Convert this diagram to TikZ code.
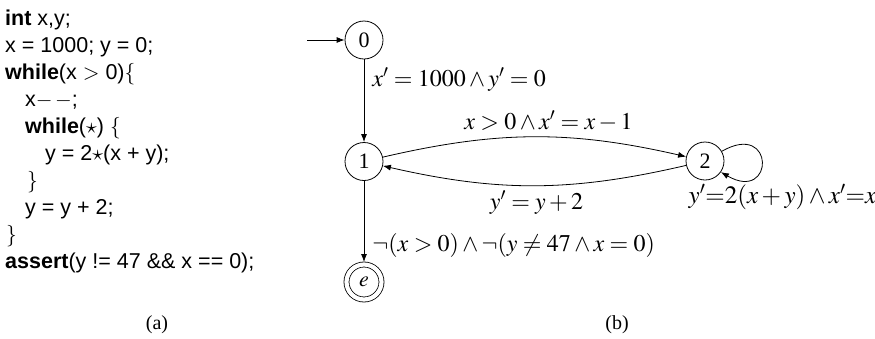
\documentclass[tikz,border=0pt]{standalone}
\usepackage{mathptmx}
\usepackage{fontspec}
\setmainfont{Liberation Serif}
\newfontfamily\codefont{Liberation Sans}
\usetikzlibrary{arrows.meta}
\begin{document}
\begin{tikzpicture}[
  x=1pt,y=1pt,
  codeline/.style={anchor=base west, inner sep=0pt, font=\codefont\fontsize{21.5}{25}\selectfont},
  state/.style={circle, draw, line width=0.8pt, minimum size=38pt, inner sep=0pt, font=\fontsize{22}{26}\selectfont},
  accept/.style={circle, draw, line width=0.8pt, double, double distance=4.2pt, minimum size=35pt, inner sep=0pt, outer sep=2.5pt, font=\fontsize{22}{26}\selectfont},
  edge/.style={line width=0.8pt, -{Latex[length=8pt,width=6pt]}},
  lab/.style={inner sep=0pt, font=\fontsize{24}{28}\selectfont},
  captext/.style={inner sep=0pt, font=\fontsize{20}{24}\selectfont}
]
\useasboundingbox (0,0) rectangle (875,-338);
% code
\node[codeline] (c1) at (5,-25) {\textbf{int} x,y;};
\node[codeline] (c2) at (5,-52) {x = 1000; y = 0;};
\node[codeline] (c3) at (5,-79) {\textbf{while}(x $>$ 0)$\{$};
\node[codeline] (c4) at (25,-106) {x$-\,-$;};
\node[codeline] (c5) at (25,-133) {\textbf{while}($\star$) $\{$};
\node[codeline] (c6) at (45,-160) {y = 2$\star$(x + y);};
\node[codeline] (c7) at (27,-187) {$\}$};
\node[codeline] (c8) at (25,-214) {y = y + 2;};
\node[codeline] (c9) at (6,-241) {$\}$};
\node[codeline] (c10) at (5,-268) {\textbf{assert}(y != 47 \&\& x == 0);};
\node[captext] (capa) at (157,-325) {(a)};
\node[captext] (capb) at (617,-325) {(b)};
% automaton
\node[state] (n0) at (364,-40) {0};
\node[state] (n1) at (364,-161.5) {1};
\node[state] (n2) at (705,-161) {2};
\node[accept] (ne) at (364,-282) {$e$};
\coordinate (init) at (307,-40);
\draw[edge] (init) -- (n0);
\draw[edge] (n0) -- node[lab, pos=0.24, anchor=west, xshift=8pt] {$x' = 1000 \wedge y' = 0$} (n1);
\draw[edge] (n1) to[bend left=13] node[lab, midway, anchor=south, yshift=5pt, xshift=14pt] {$x > 0 \wedge x' = x - 1$} (n2);
\draw[edge] (n2) to[bend left=13] node[lab, midway, anchor=north, yshift=-5pt, xshift=2pt] {$y' = y + 2$} (n1);
\draw[edge] (n2.30) .. controls +(30:62) and +(-30:62) .. (n2.-35);
\node[lab, anchor=east] (l22) at (876.5,-197) {\fontsize{25}{29}\selectfont$y'{=}2(x+y)\wedge x'{=}x$};
\draw[edge] (n1) -- node[lab, pos=0.8, anchor=west, xshift=8pt] {$\neg(x > 0) \wedge \neg(y \neq 47 \wedge x = 0)$} (ne);
\end{tikzpicture}
\end{document}
